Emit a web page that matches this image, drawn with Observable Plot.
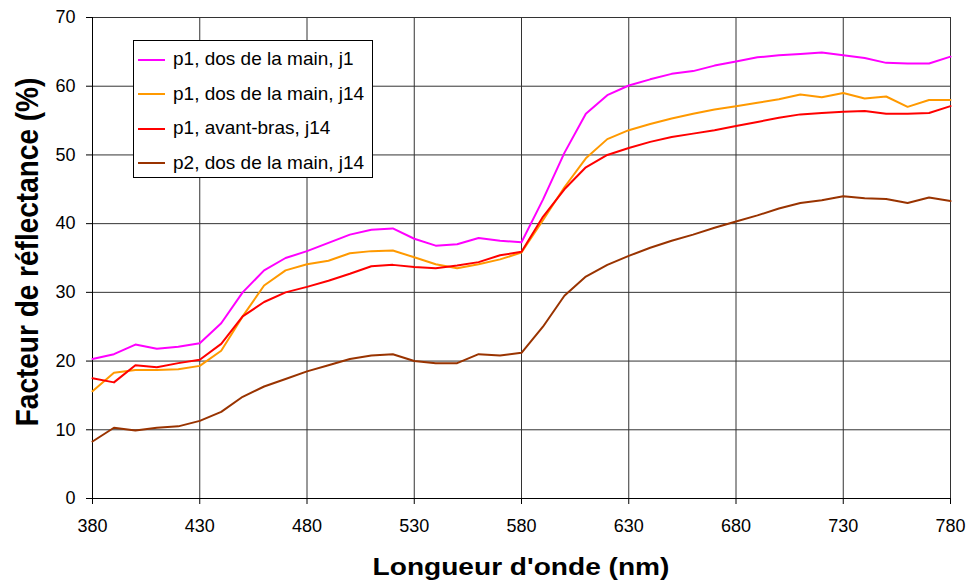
<!DOCTYPE html>
<html><head><meta charset="utf-8">
<script src="https://cdn.jsdelivr.net/npm/d3@7"></script>
<script src="https://cdn.jsdelivr.net/npm/@observablehq/plot@0.6"></script>
<style>
body{margin:0;background:#fff;font-family:"Liberation Sans",Arial,sans-serif}
#wrap{position:relative;width:969px;height:585px;overflow:hidden}
#legend{position:absolute;left:133px;top:40px;width:240px;height:138px;border:1px solid #000;background:#fff;box-sizing:border-box}
.li{position:absolute;left:4px;height:22px;font-size:19px;line-height:22px;color:#000;white-space:nowrap}
.li span.sw{display:inline-block;width:27px;height:0;border-top:2px solid;vertical-align:middle;margin-right:8px}
#ylab{position:absolute;left:28px;top:252px;transform:translate(-50%,-50%) rotate(-90deg) scale(1,1.12);font-weight:bold;font-size:28px;line-height:28px;white-space:nowrap}
#xlab{position:absolute;left:521px;top:567px;transform:translate(-50%,-50%) scale(1.17,1);font-weight:bold;font-size:24px;line-height:26px;white-space:nowrap}
</style></head>
<body><div id="wrap"></div>
<script>
const wavelengths = [380,390,400,410,420,430,440,450,460,470,480,490,500,510,520,530,540,550,560,570,580,590,600,610,620,630,640,650,660,670,680,690,700,710,720,730,740,750,760,770,780];
const p1MainJ1 = [20.3,21.0,22.4,21.8,22.1,22.6,25.5,30.0,33.2,35.0,36.0,37.2,38.4,39.1,39.3,37.8,36.8,37.0,37.9,37.5,37.3,43.5,50.3,56.0,58.7,60.1,61.0,61.8,62.2,63.0,63.6,64.2,64.5,64.7,64.9,64.5,64.1,63.4,63.3,63.3,64.3];
const p1MainJ14 = [15.6,18.3,18.7,18.7,18.8,19.3,21.5,26.5,31.0,33.2,34.1,34.6,35.7,36.0,36.1,35.1,34.1,33.5,34.1,34.8,35.8,40.5,45.3,49.5,52.3,53.6,54.5,55.3,56.0,56.6,57.1,57.6,58.1,58.8,58.4,59.0,58.2,58.5,57.0,58.0,58.0];
const p1BrasJ14 = [17.5,16.9,19.4,19.1,19.7,20.2,22.5,26.5,28.6,30.0,30.8,31.7,32.7,33.8,34.0,33.7,33.5,33.9,34.4,35.4,35.9,41.0,45.0,48.2,50.0,51.0,51.9,52.6,53.1,53.6,54.2,54.8,55.4,55.9,56.1,56.3,56.4,56.0,56.0,56.1,57.1];
const p2MainJ14 = [8.3,10.3,9.9,10.3,10.5,11.3,12.6,14.8,16.3,17.4,18.5,19.4,20.3,20.8,21.0,20.0,19.7,19.7,21.0,20.8,21.2,25.0,29.5,32.3,34.0,35.3,36.5,37.5,38.4,39.4,40.3,41.2,42.2,43.0,43.4,44.0,43.7,43.6,43.0,43.8,43.3];
const seriesNames = ["p1, dos de la main, j1","p1, dos de la main, j14","p1, avant-bras, j14","p2, dos de la main, j14"];
const seriesColors = ["#ff00ff","#ff9900","#ff0000","#993300"];
const xTicks = [380,430,480,530,580,630,680,730,780];
const yTicks = [0,10,20,30,40,50,60,70];

const allSeries = [p1MainJ1,p1MainJ14,p1BrasJ14,p2MainJ14];
const rows = [];
allSeries.forEach((vals,i)=>vals.forEach((v,j)=>rows.push({nm:wavelengths[j],v,s:seriesNames[i]})));

const chart = Plot.plot({
  width:969,height:585,
  marginLeft:92,marginRight:19,marginTop:17,marginBottom:87,
  style:{fontSize:"18px",fontFamily:"Liberation Sans, Arial, sans-serif",color:"#000",background:"#fff"},
  x:{domain:[380,780]},
  y:{domain:[0,70]},
  color:{domain:seriesNames,range:seriesColors},
  marks:[
    Plot.gridX(xTicks,{stroke:"#333",strokeOpacity:1,strokeWidth:1}),
    Plot.gridY(yTicks,{stroke:"#333",strokeOpacity:1,strokeWidth:1}),
    Plot.ruleX([380],{stroke:"#000"}),
    Plot.ruleY([0],{stroke:"#000"}),
    Plot.axisX(xTicks,{tickSize:6,tickPadding:15,label:null,fontSize:18}),
    Plot.axisY(yTicks,{tickSize:6,tickPadding:11,label:null,fontSize:18}),
    Plot.line(rows,{x:"nm",y:"v",stroke:"s",z:"s",strokeWidth:2})
  ]
});
const wrap = document.getElementById("wrap");
wrap.appendChild(chart);

const legend = document.createElement("div");
legend.id="legend";
seriesNames.forEach((n,i)=>{
  const d=document.createElement("div");
  d.className="li";
  d.style.top=(7+i*34.5)+"px";
  d.innerHTML=`<span class="sw" style="border-color:${seriesColors[i]}"></span>${n}`;
  legend.appendChild(d);
});
wrap.appendChild(legend);
const yl=document.createElement("div");yl.id="ylab";yl.textContent="Facteur de réflectance (%)";wrap.appendChild(yl);
const xl=document.createElement("div");xl.id="xlab";xl.textContent="Longueur d'onde (nm)";wrap.appendChild(xl);
</script></body></html>
